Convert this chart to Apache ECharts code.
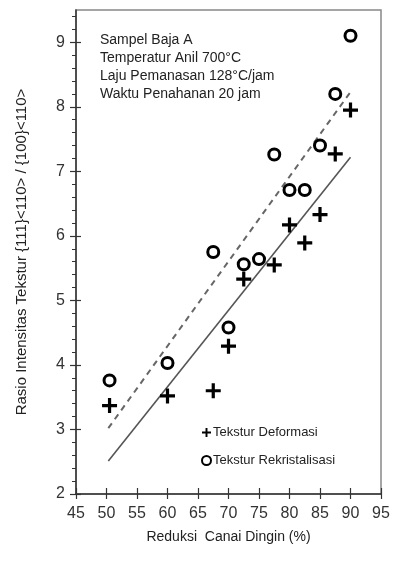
<!DOCTYPE html>
<html>
<head>
<meta charset="utf-8">
<script src="https://cdn.jsdelivr.net/npm/echarts@6/dist/echarts.min.js"></script>
<style>
  html, body { margin: 0; padding: 0; background: #fff; }
  #chart { width: 393px; height: 574px; }
</style>
</head>
<body>
<div id="chart"></div>
<script>
const FONT = 'Liberation Sans, Arial, sans-serif';

// reduction (%) / intensity ratio
const defX = [50.5, 60, 67.5, 70, 72.5, 77.5, 80, 82.5, 85, 87.5, 90];
const defY = [3.37, 3.52, 3.6, 4.29, 5.33, 5.55, 6.17, 5.89, 6.33, 7.27, 7.95];
const rekX = [50.5, 60, 67.5, 70, 72.5, 75, 77.5, 80, 82.5, 85, 87.5, 90];
const rekY = [3.76, 4.03, 5.75, 4.58, 5.56, 5.64, 7.26, 6.71, 6.71, 7.4, 8.2, 9.1];

// trend lines (end points)
const fitDefX = [50.3, 90];
const fitDefY = [2.51, 7.22];
const fitRekX = [50.3, 90];
const fitRekY = [3.02, 8.23];

const xTicks = [45, 50, 55, 60, 65, 70, 75, 80, 85, 90, 95];
const yTicks = [2, 3, 4, 5, 6, 7, 8, 9];
const yMinorTicks = [];
for (let v = 2.2; v < 9.45; v += 0.2) {
  const r = Math.round(v * 10) / 10;
  if (!yTicks.includes(r)) yMinorTicks.push(r);
}

const notes = [
  'Sampel Baja A',
  'Temperatur Anil 700°C',
  'Laju Pemanasan 128°C/jam',
  'Waktu Penahanan 20 jam'
];

const plusPath = 'path://M5.5,0H8.5V5.5H14V8.5H8.5V14H5.5V8.5H0V5.5H5.5Z';
const zip = (xs, ys) => xs.map((x, i) => [x, ys[i]]);

const myChart = echarts.init(document.querySelector('#chart'));

const xBase = { type: 'value', min: 45, max: 95, gridIndex: 0, position: 'bottom', splitLine: { show: false } };
const yBase = { type: 'value', min: 2, max: 9.5, gridIndex: 0, position: 'left', splitLine: { show: false } };

myChart.setOption({
  animation: false,
  backgroundColor: '#fff',
  textStyle: { fontFamily: FONT },
  title: {
    text: notes.join('\n'),
    left: 95,
    top: 26,
    textStyle: { fontFamily: FONT, fontSize: 14, fontWeight: 'normal', color: '#222', lineHeight: 18 }
  },
  grid: {
    left: 76, right: 12, top: 10, bottom: 80,
    show: true, borderColor: '#888', borderWidth: 1.5, backgroundColor: 'transparent'
  },
  legend: {
    orient: 'vertical',
    left: 196,
    top: 421,
    itemWidth: 9,
    itemHeight: 9,
    itemGap: 15,
    textStyle: { fontFamily: FONT, fontSize: 13, color: '#222', padding: [0, 0, 0, -3] },
    data: [
      { name: 'Tekstur Deformasi', icon: plusPath, itemStyle: { color: '#000', borderWidth: 0 } },
      { name: 'Tekstur Rekristalisasi', icon: 'circle', itemStyle: { color: '#fff', borderColor: '#000', borderWidth: 2 } }
    ]
  },
  xAxis: [
    Object.assign({}, xBase, {
      name: 'Reduksi  Canai Dingin (%)',
      nameLocation: 'middle',
      nameGap: 36,
      nameTextStyle: { fontFamily: FONT, fontSize: 14, color: '#222' },
      axisLine: { show: true, lineStyle: { color: '#333', width: 1.5 } },
      axisTick: { show: true, inside: false, length: 5, customValues: xTicks, lineStyle: { color: '#333', width: 1.2 } },
      axisLabel: { show: true, margin: 12, customValues: xTicks, fontFamily: FONT, fontSize: 16, color: '#333' }
    }),
    Object.assign({}, xBase, {
      axisLine: { show: false },
      axisTick: { show: true, inside: true, length: 6, customValues: xTicks, lineStyle: { color: '#333', width: 1.2 } },
      axisLabel: { show: false }
    })
  ],
  yAxis: [
    Object.assign({}, yBase, {
      name: 'Rasio Intensitas Tekstur {111}<110> / {100}<110>',
      nameLocation: 'middle',
      nameGap: 47,
      nameTextStyle: { fontFamily: FONT, fontSize: 15, color: '#222' },
      axisLine: { show: true, lineStyle: { color: '#333', width: 1.5 } },
      axisTick: { show: true, inside: false, length: 6, customValues: yTicks, lineStyle: { color: '#333', width: 1.2 } },
      axisLabel: { show: true, margin: 11, customValues: yTicks, fontFamily: FONT, fontSize: 16, color: '#333' }
    }),
    Object.assign({}, yBase, {
      axisLine: { show: false },
      axisTick: { show: true, inside: true, length: 5, customValues: yTicks, lineStyle: { color: '#333', width: 1.2 } },
      axisLabel: { show: false }
    }),
    Object.assign({}, yBase, {
      axisLine: { show: false },
      axisTick: { show: true, inside: false, length: 4, customValues: yMinorTicks, lineStyle: { color: '#333', width: 1 } },
      axisLabel: { show: false }
    })
  ],
  series: [
    {
      name: 'fitDef',
      type: 'line',
      data: zip(fitDefX, fitDefY),
      showSymbol: false,
      symbol: 'none',
      lineStyle: { color: '#555', width: 1.6, type: 'solid' },
      z: 1
    },
    {
      name: 'fitRek',
      type: 'line',
      data: zip(fitRekX, fitRekY),
      showSymbol: false,
      symbol: 'none',
      lineStyle: { color: '#666', width: 2, type: [6, 5] },
      z: 1
    },
    {
      name: 'Tekstur Deformasi',
      type: 'scatter',
      data: zip(defX, defY),
      symbol: plusPath,
      symbolSize: 15,
      itemStyle: { color: '#000', opacity: 1 },
      z: 3
    },
    {
      name: 'Tekstur Rekristalisasi',
      type: 'scatter',
      data: zip(rekX, rekY),
      symbol: 'circle',
      symbolSize: 11,
      itemStyle: { color: '#fff', borderColor: '#000', borderWidth: 3, opacity: 1 },
      z: 4
    }
  ]
});
</script>
</body>
</html>
